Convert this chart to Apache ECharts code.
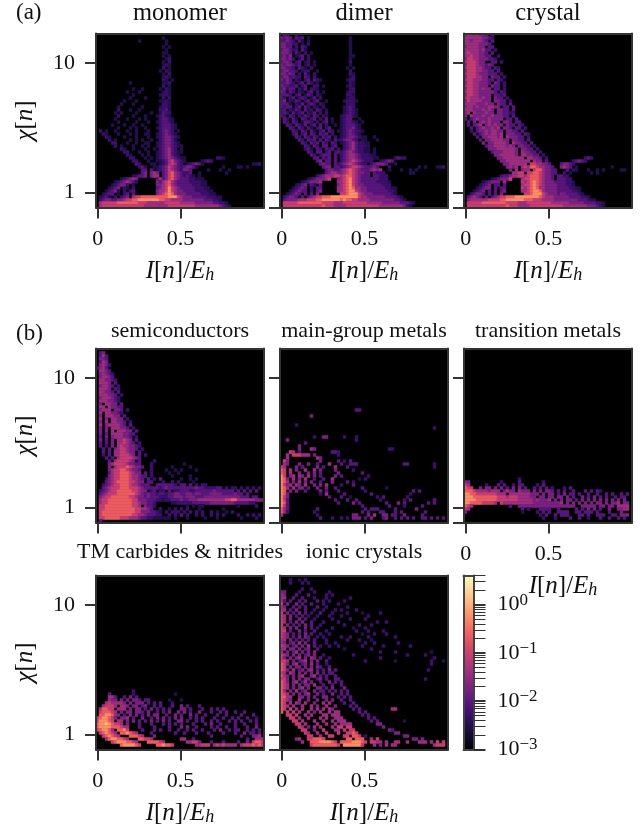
<!DOCTYPE html>
<html><head><meta charset="utf-8">
<style>html,body{margin:0;padding:0;background:#fff}#c{width:644px;height:831px}</style>
<script src="https://cdn.jsdelivr.net/npm/echarts@6/dist/echarts.min.js"></script>
</head><body><div id="c"></div>
<script>
// Each row list: index = row from the top, "startColumn:levels" with '.' for an empty bin.
const monomerRows=["","22:1","14:1 23:1","23:1","22:1.1","23:1","22:11","22:1.1","23:12","22:1.2","22:121","22:2.1","21:1.21","22:1.2","22:121","22:21.1","11:1 22:112","22:2.1","12:1 15:1 21:1.21","10:1 14:1 22:121","12:1 21:1221","11:1 16:1 22:2.2","9:1 13:1 21:1121","8:1 12:1 22:221","7:1 15:1 21:1221","7:2 11:1 14:1 21:2231","6:1.1 13:1 18:1 21:1322","7:2 12:1 16:1 20:12321","6:1 10:1 14:1.1 21:23321","7:1 13:1 17:1 20:123321","5:1 9:1 12:1 15:1 21:233321","7:1 11:1.1 16:1 20:1233321","1:2.1 6:1 10:1 13:1 17:1 21:23432.1","2:21 7:1 11:1.1 16:11 20:1234321","3:21 9:1 13:1 17:1 20:12344321","4:2.1 11:1.1 15:1 18:1 21:234431","5:22 10:1 13:1 16:11 20:12344321","6:2.1 12:1 15:1.1 20:123443211","8:21 12:1 16:1 19:1.234532.1","9:22 14:1 17:1 20:123453211","10:2 11:1 15:1.1 20:12345321","11:22 16:1.1 20:1234543211 40:221","12:22 17:1 20:1123564321 35:1232","13:32 18:11 21:12356532 30:123431 52:112","14:231 19:1 20:123465432 29:34431 42:1 47:11.1","15:33 18:3 20:123465432 29:443 37:1 41:1 44:1","15:34 18:454 22:3467543223 34:1 43:1","12:12334 18:455 22:34675432321 34:1","8:123454 20:35 22:34675433322 33:111","6:12345431 20:4 21:356754333322 33:2211","5:123442.1 20:445675433333 32:22211","4:1234.21.2 20:345686543333 32:322211","3:12341.2.23 20:455686544333 32:3222211","2:1233.1.23 12:3 20:4 21:56787544433 32:33322211","1:123 4:1.2.234 12:56 14:67777777 22:778886544433 34:33322211","1:2344334456 11:67788888887 22:7665555444 32:4444333221","1:56666 6:6777777766655 17:5 18:55555666665555544 35:444433221","1:5666666666666665555555566666666655555555 41:4321"];
const dimerRows=["1:32 5:2","0:4343 5:323 9:1 23:1","0:334 3:32 6:31.1 23:1","0:443 3:322 7:1 9:2 23:1","0:4433 5:2 7:32 23:1","0:3443 4:22.3 8:1 23:1","0:44 2:43 5:31 8:2 10:1 23:1","0:3434 5:1 6:23 9:2 23:11","0:4434 4:2.1 7:3 9:2 23:1","0:3443 5:23 8:12 11:1 23:2","0:4344 4:323 8:12 11:1 23:1","0:443 3:32 6:3 7:21 10:2 22:1.1","0:3443 4:32 7:12 9:2 12:1 23:2","0:44343 6:2 8:31 11:2 23:21","0:3442 4:3 5:22 8:3 9:2 11:2 23:12","0:4343 5:21 8:23 11:32 13:1 22:122","0:334 3:3 4:2 6:23 9:32 12:1 23:21","0:433 3:2 4:23 7:2 8:3 11:22 14:1 22:121","0:34 2:233 6:2 7:13 10:2 11:21 23:22","0:43 3:32 6:21 9:23 12:2 14:1 22:122","0:33 2:32 5:23 8:1 9:32 12:21 22:221","0:32 3:23 6:2 7:32 10:13 13:2 22:122","0:34 3:21 5:32 8:23 11:2 12:3 15:1 21:12221","0:33 2:31 5:2 6:13 9:2 10:32 13:21 22:222","0:32 2:33 5:23 8:32 11:21 14:2 21:1232","0:23 3:21 5:32 8:3 9:12 12:32 15:1 21:12321","0:2 1:32 4:31 6:23 9:2 10:13 13:2 15:2 21:12321","0:32 3:32 6:21 8:32 11:3 12:2 14:21 20:123321","1:32 4:31 7:32 10:23 13:2 15:3 17:1 20:1233 26:1","1:3 2:2 4:32 7:13 9:32 12:2 14:23 17:1 20:123321 27:1","2:32 5:3 6:21 8:3 10:23 13:3 15:2 18:1 20:1233321","3:3 4:2 6:32 9:31 12:23 15:2 16:3 20:1233421","4:32 7:3 8:2 10:31 13:2 14:3 16:32 19:1 20:12343221","4:2 5:3 7:23 10:32 13:3 14:23 17:2 20:1234321","5:32 8:32 11:3 12:2 14:3 15:23 18:2 20:123443211 31:1","6:32 9:3 10:23 13:3 15:32 18:3 19:1 20:234432 27:11 32:1","7:32 10:3 11:23 14:32 17:3 18:2 20:1234532211","8:32 11:3 12:2 14:33 17:2 18:3 21:234532221","8:2 9:3 10:1 12:32 15:3 16:23 19:2 21:234532211.1","9:32 12:33 15:2 16:3 18:23 20:2345432211.1","10:32 13:23 15:33 18:3 20:234554322211","11:33 14:3 15:23 18:3 20:2345543222211 38:2322","12:34 15:33 18:3 20:23456543222 33:12343","13:3433 18:3 19:2345654322 30:234443 38:1","14:344 18:33 20:23456654333 30:343 36:2 46:1.1 52:112","15:3443 19:34567654333 30:4545 36:1 40:1 43:1.1","15:34554 20:4567654433 31:3222 43:11","12:23455566 20:5677654333 31:33222","9:12344456 19:45 21:678654333 30:333222","7:123444 13:5 19:5 20:5678654 27:33333 32:22221","5:1234.32.3 19:45 21:6786544 28:3333 32:33222","4:12343.2.33 19:5 20:567875544 29:3333 33:332211","3:123433.2.34 19:5 20:5678865 27:4433333 34:33221","2:12343.3.3 12:4 20:667888654443 32:333 35:3321","1:234 4:43.3.345 12:667 15:7788888 22:8888655444 32:444333321","1:3444455566 11:6778888887 21:8776655554 31:44444443321","1:66666 6:7777777766665 18:55566666666555554 35:4444433321","1:66666666666667666555566666666666555555554 42:21"];
const crystalRows=["0:45555443.3","0:5555554432","0:55455543 9:3","0:555554443","0:4555544.33","0:555554533.2","0:56555443.3","0:556554433 11:2","0:46655444332","0:5666544 9:33.2","0:4666544343","0:566655433 10:32","0:4666554433 11:3","0:566654443 9:33.2","0:46665544 9:433.2","0:5665554433 11:32","0:466554443 10:43.2","0:56655444 9:433 13:2","0:466554544 10:33 13:2","0:56655444443 12:32","0:466554444 10:3323","0:565554544 10:433 14:2","0:465555444 10:4433 15:2","0:5555444544 11:433 15:3","0:455454445544 13:33 16:3","0:5554445454 11:4433 16:3","0:45.5444544 11:44332 16:2","0:4.544454454 11:4433 16:3","0:3.34544 7:454444 14:33 17:3","1:3.4.454 8:5444 13:443 17:33","1:3.345.4 8:54544 14:433 18:32","2:3.345 7:44545 13:443 17:33 20:2","2:2.34 6:45 8:45544 14:4433 19:3","3:3.345 8:45545 14:44433 20:32","4:3.445 9:5545 14:544433 21:2","5:3.445 10:55544 16:4433 21:3","6:4.44 10:55554 16:54433 22:3","7:3445 11:555454 18:4433 23:2","8:44 10:45 12:555554 19:4433 24:2","9:344 12:455554 19:54433 25:2","10:445 13:55554 19:554433 26:2","11:445 14:555555 21:55443 27:2 40:232","12:4455 16:55 18:5555 23:544 27:3 36:23432","13:4455 17:55 19:55 22:6655443 32:34432","14:4545 19:565 22:77655443 32:4543 37:1 49:1","15:4 17:5 19:455 23:67754433 34:3 36:21 41:1 44:1.1 52:11","16:5566 21:6677654433 33:2.1 42:1.1","12:23345566 20:5677765443 31:3322","9:1234445 15:6 19:56 21:677765443 31:33322","6:123444 13:5 19:6 20:5678765 27:4443 31:333221","5:1234.33.3 19:56 21:6787654 28:4443 32:33221","4:12344.3.33 19:6 20:567875544 29:4433 33:332211","3:1234.3.3.34 19:5 20:5678875 27:4444333 34:33221","2:23443.3.3 12:4 20:667888654443 32:4433 36:3321","1:345 4:43.3.345 12:667 15:7788888 22:8887655544 32:4443333221","1:4555555666 11:6778888887 21:7766655554 31:4444444333211","1:66666 6:7777777766665 18:55566666666555555 35:444443333221","1:666666666666676665555666666666665555555544 43:4321"];
const semiconductorRows=["","1:34","1:353","1:443","1:354","1:4542","0:2453","1:5543","1:45432","1:45543","1:554432","1:5554 6:3","1:45543 7:2","1:5554 6:32","1:55443 7:3","1:555443 8:2","1:4555432","1:55544 6:32","1:4 3:5544 8:3","1:55 4:54433","1:4555 6:443 10:2","1:5 3:554432","1:4 3:55544 9:3","1:5 3:4 5:5544 10:2","1:4 3:5 5:55443 11:2","1:5 3:4555543 11:3","1:4 3:4 5:555443 12:2","1:4 3:4 5:5 7:55544 13:3","1:4 3:3 5:555544 11:33","1:3 3:4 5:4555443 13:2","1:4 3:3 5:4 7:55654 13:3","1:3 3:3 5:4 7:556543 14:2","1:3 3:2 5:4 7:565544 13:32","2:3 4:3 6:45665443 15:2","2:3 4:3 6:5566544 14:3","2:2 4:3 6:5566654 14:3 16:2","3:3 5:3 7:56666543","4:3 6:5666654 14:3 19:2","4:45666654433 18:2 29:1","4:4 6:5666765443 18:2 25:1 31:1","4:45667765443 18:2 23:1 26:1.1 33:1","4:35667776544 16:3 18:2 24:1 27:1","4:4566777655433 18:2 25:1 31:1","3:2456677765543 17:3 19:2.3 28:1 31:1.1","3:3456777766544 17:33 22:2 25:2.2 32:1","2:2345667776554333 20:3 21:333332 28:33.3 33:2.2 36:2","2:34566677766654 16:33333234333 27:33333343322 38:2233.2.22.2.2.2.2","1:2345667777766544 18:23.22.3.2 27:233322333 36:3 37:334333333.3.3.3.3","1:34566677777765 15:4343323 22:3233443 29:3443 33:443 36:3344443333433.3","1:4566777777665 14:4434333 21:2223344 28:4344433 35:3444444444 45:444333.33","1:5667777777766 14:4443332 21:2 22:1223334 29:3344455 36:55555 41:556677555 50:555444","1:56677777777665 15:4433 19:2 25:1122 29:22233 34:333344 40:444444 46:3333322","1:667777777776 13:65 16:4332 30:1 32:1.1 35:1 47:1 53:2","1:6677777777776655 17:43 21:2 24:1.2 28:2.2 34:1 42:1","1:6777777777 11:7766 15:4443 19:321 23:2 25:22 27:2.2 31:2.2 35:2 38:2.1 43:1.2","1:677777777776655 16:4333 20:22 24:2 26:2.3.2 33:2.2 38:2 40:2.2 47:2 50:2.2 54:2","1:6677777666555 14:43322111 22:111 26:1 30:1 36:1 40:1 48:1 53:2","1:3"];
const mainGroupRows=["","","","","","","","","","","","","","","","","","","","","25:33","","10:4","","","5:2","51:2","","","11:2 14:44 21:2 25:2","2:4 25:2","8:3","6:4","6:4 10:54 36:22","3:65 6:3 17:33 19:2","2:5 4:666555 11:4 19:2","2:5 12:54","1:6 2:4 13:4 19:3 21:2 23:3","1:54 6:4 9:4 12:3 16:5 20:3 23:33 25:3 41:33 51:2","0:6 1:5 5:4.4 7:3 12:4.3 18:5 22:3 51:2","0:7 1:6 3:5 5:4 8:5 11:5 13:4 18:4 24:2","0:76 3:5 6:4 9:4 11:4 13:3 19:4 27:3","0:86 3:45 6:54 9:5 11:4.3 18:4 20:3 29:2","0:87 2:4 4:5 6:4 8:5 11:3 14:3 17:5 26:1.2","0:87 2:5 4:4.5 8:4.4 13:3 17:4 22:3 24:2","0:86 2:45 5:54 8:5 11:4 13:4 15:5 20:2 24:3","0:87 2:5 4:5.4 7:4 9:3 12:4 15:4 18:3 27:3 35:1","0:87 3:4 5:4 8:3 13:4 15:3 19:3 28:2 44:3.3","0:87 2:4 13:2 15:5 21:3 30:3 43:2","0:86 2:4 16:3 20:3 23:1 32:2.3 42:2","0:86 2:3 18:3 22:3 25:3 33:2 41:2.3 51:3","0:87 2:3 19:3 24:4 26:3 35:3 39:4.3 49:3.3","0:86 2:3 27:3 36:3 41:2 47:3","0:75 2:3 12:3 28:3.3 31:33 38:3 45:4","0:75 2:2 11:2 27:3 29:3 33:33 38:3.3 48:3","0:5 12:2 24:44 29:4 31:5 34:44 37:33 41:4 47:3","13:3 17:2 20:2 22:2 24:444 28:3 30:4 34:34 38:3.3.3 44:3 47:33 50:3 52:3 54:3",""];
const transitionRows=["","","","","","","","","","","","","","","","","","","","","","","","","","","","","","","","","","","","","","","","","","","","18:2","0:44 12:2 18:3 26:2","0:65 7:2 11:3.3 16:2.33 24:2.2 26:3","0:766 5:4.4 8:4 10:4.4 14:3 16:4 18:4 20:3 23:3.3 27:3 29:2 33:2.3","0:777655554555 13:4544 18:5 19:444 23:4.4.44 29:3.3 33:3 36:3 40:3.3.3 45:2","0:88776666666555 15:5555 19:55 21:5444 26:4.44 31:3.4.3 36:3.3 41:3 44:3 47:3 49:3 52:3 54:3","0:888777777776665 15:6665555 22:44.4 26:4.44.4 32:4 34:4.3 39:4.3.4 45:3.3 50:3.3 53:3","0:8888777777766 13:6666 17:65555 22:54544 27:45.4 32:4.44 37:3.4.4 43:4 45:4.4 49:4 51:4.4","0:88777766665 12:655 15:55555 20:555444 26:444 29:44 31:45 34:4 36:4.4.4 42:4.44.4.4 50:45 53:44","0:765 15:3 18:4444 22:44444 27:44444 32:444 35:44 39:444 42:44 45:44 48:44 51:5555","0:65 19:3 21:2 25:33 27:33 31:3 37:3.3 41:4 43:4 45:3 48:4 51:445 54:5","0:4 19:1 24:2 26:3.3 31:3333 37:33.33 42:3.3 48:3 52:4","25:2 27:3 30:3.3 33:33 38:33 41:3 44:33 46:3 49:33 52:44 54:4","26:2 30:2 35:3 38:3 41:2 45:3 48:3 51:3 53:3",""];
const carbideRows=["","","","","","","","","","","","","","","","","","","","","","","","","","","","","","","","","","","","","","","12:2","4:3 12:2 26:1","4:55 6:3 9:3 11:4 13:3","4:54 6:4 8:4 10:4.44 14:3.3 17:3 24:1 28:1","3:5655 7:5 8:54 11:4.4 14:44 17:3.3 21:3 25:2","2:5666 6:5.5 9:54 12:44.3 16:4 19:3 21:3 25:3 28:4.3 34:3","1:57766 7:555 11:4 13:44 16:3 18:4.3 22:3 24:3 28:44 31:3 35:3 38:3.3 42:3","1:6777 5:65 8:4.4 11:4.44 15:3 17:4 20:3.3 24:4 27:4.4 31:3 34:4 38:3 41:3.3 46:3 49:3","1:77887 6:5 7:4 9:3 11:4 13:4.3 17:4 19:44 23:3 26:4 28:3 31:4.3 36:3 40:3 43:3 48:3 52:3","0:6788 4:7 5:6 6:4 8:44 10:5 12:3 15:4 18:3.4 22:4.3 26:4 28:4 31:3.3 35:3 39:3 42:3 45:3 47:3 50:3 53:2","0:6888 4:76 7:55 10:4.4 14:3 16:3.4 20:3.4 24:3 27:44 30:3 33:3.3 38:3 40:3 44:3.3 48:3 51:3.3","0:7889 4:87 6:66 8:5 10:4 14:3 18:3 22:3.3 26:3 28:3 32:3 36:3 38:4 41:3 46:3 49:3 53:3","0:7888 4:8 5:7 6:7 7:76 9:55 14:3 19:3 24:3 28:4.4 33:3 38:3.3 43:3 46:3 50:3 53:4","0:6 1:7887 5:5 7:778 10:6 15:3 19:3.3 24:3 27:3 30:3.3 35:3 39:3.4 44:3.3 47:3 50:3.3 54:3","1:6787 5:65 8:7787 12:65 18:3 26:3 29:3 33:3 37:3 42:3 46:3 49:4.3 52:3.3","2:67876 7:5 11:77765 19:4 38:3 48:3 52:445","3:5788776 10:5 14:7766 18:5 28:55 32:3 50:3 53:555","5:67888776 13:5 17:777765 30:5566 34:4 38:3 42:3 47:3 50:4 52:6776","8:7888876 20:778776 33:55666 39:56565 44:555 48:5666 52:7676",""];
const ionicRows=["","3:2 6:1.1 8:2","3:2 7:2 9:2","","7:2 10:2","0:44 6:2 11:2 16:2","0:54 5:3 9:3 15:2 17:2","0:55 4:3 7:3 11:2 15:2 23:2","0:53 3:3 6:3 8:3 12:3.2 16:2 21:2","0:6 2:4 5:4 7:3 10:3 14:2 19:2","0:54 4:3 6:3.3 12:3 15:2 22:2","0:55 3:3 5:4 8:3 11:2 14:2 18:2 20:2 25:2","0:6 2:4 4:3.4 8:3 10:2 13:3 17:2 22:2 27:1 33:2","0:65 3:4 5:3 7:3.2 12:2 16:2 20:2 29:2","0:65 3:4 6:4 8:3 11:2 17:2 23:2 28:2","0:65 3:3.4 7:4 10:3 14:2 19:2 32:2 35:2","0:6 2:4 4:3 6:3.4 10:3 13:2 21:2 26:2 30:2","0:65 3:4 5:4 8:4.3 12:2 17:2 24:1 28:2","0:66 3:3 6:4 8:3 11:3 15:2 25:2 29:2 34:2","0:65 2:4 4:3.3 8:4 10:3 13:2 16:2 27:1 31:2 35:2","0:654 4:3.4 8:43 12:2 14:2 20:2 23:2 29:2 38:2","0:55.4 5:3 7:3.3 11:3 15:2 22:2 26:2 30:1","0:54.34 6:5 8:4 11:3 15:2 18:2 28:2 31:2 39:2","0:654 4:34 7:4.5 11:3 13:2 16:2 19:2 27:2 34:2 43:2","0:55.44 6:4 8:34 12:3 21:1 30:2","0:5.4 4:35 7:4.4 11:4 33:2 38:2 50:1","0:654 4:4 6:4.34 11:4 14:2 24:2 42:2 48:2","0:64.4 5:45 8:4 10:54 13:3 16:2 33:2 51:2","0:665 4:4 6:3 7:45 10:4 12:4 15:3 28:2 38:1 50:2 54:1","0:764 4:45 7:34 10:5 12:3 15:2 50:2","0:76.4 5:44 8:4.4 12:43 16:3","0:764 4:5 6:34 9:45 12:3 14:3 16:4 18:3 49:2","0:65 3:54 6:4.4 10:4 12:4 14:3 16:33","0:754 4:4 6:45 10:45 13:3 15:3 18:3","0:664 4:4.4 8:44 12:34 15:3 18:33 48:2","0:764 4:45 7:3 8:5 10:4 13:3 16:4 18:3 20:3","0:765 4:4 6:4 8:44 11:5 14:3 17:3 20:3","0:765 4:4 6:45 9:4 12:44 15:3 17:4 21:4","0:75 3:4 5:5 7:34 11:4 13:33 16:3 18:3 20:3 22:3","0:765 4:4 6:4 8:45 12:4 14:3 17:4 20:3 22:3","0:775 3:5 6:44 9:4 11:4 14:44 19:3 21:3 23:3","0:76 2:54 6:5 9:4 12:4 15:4 17:4 20:3 23:3","0:76 3:5 5:54 8:5 11:4 14:5 16:5 21:3 24:3","0:76 2:5 4:5 7:5 10:5 12:4 15:5 18:4 23:3 25:3","0:7 1:6 3:6 5:5 7:5 10:5 12:5 14:5 16:54 24:3 26:3 37:55","0:7 2:6 4:6 6:5 9:5 11:4 13:5 16:5 18:55 26:3 28:3","2:66 5:6 8:5 10:5 14:55 17:55 19:5 27:3 29:3","3:66 6:5 9:5 13:5 15:5 18:55 20:5 29:3 31:3","4:66 7:5 11:5 14:5 17:5 19:55 21:5 30:3 32:3 41:1","5:66 8:5 12:5 15:5 18:5 20:55 22:55 32:44","6:65 9:4 11:5 13:5 17:5 19:66 22:66 34:4","7:66 11:4 14:6 18:55 21:6 23:66 36:43","8:65 12:5 15:6 19:6 22:66 24:76 38:44","9:66 13:5 16:66 21:66 24:7 25:76 28:2 41:44","5:4 6:5 9:66 11:7 12:777 14:6 22:77 25:777 30:5 32:6 44:44 47:4","7:5 10:777 13:8888 17:76 20:7777 24:888 27:7 28:6 30:6655 35:5 38:55 42:5 46:555 50:5 52:6 54:6","10:6 11:7777 15:7777 19:6 21:8888 25:88 27:6 31:5 33:4 35:5 37:55 51:5 52:666",""];

const levelValues=[-2.5,-2.28,-2.03,-1.74,-1.42,-1.06,-0.66,-0.26,0.17]; // log10 density per level digit 1-9
const xTicks=[0,0.5];
const yTicks=[0,1,10];
const colorbarMajor=[-3,-2,-1,0];
const colorbarMinorFactors=[2,3,4,5,6,7,8,9];
const magma=['#000004','#180f3d','#440f76','#721f81','#9e2f7f','#cd4071','#f1605d','#fd9668','#feca8d','#fcfdbf'];

const FONT='"Liberation Serif","Times New Roman",serif', INK='#111', FRAME='#333';
const COLS=56, ROWS=58, W=168, H=174;
const colNames=Array.from({length:COLS},(_,i)=>i), rowNames=Array.from({length:ROWS},(_,i)=>i);
const symlog=v=>v<=1?v:1+8.63*Math.log10(v);
const symMax=11.6;

function parse(rows){const out=[];rows.forEach((row,r)=>{row.split(' ').filter(Boolean).forEach(seg=>{
  const [s,l]=seg.split(':');[...l].forEach((ch,k)=>{if(ch!=='.')out.push([+s+k,r,levelValues[+ch-1]]);});});});return out;}

const xName='{i|I}{r|[}{i|n}{r|]/}{i|E}{s|h}';
const chiName='{i|\u03c7}{r|[}{i|n}{r|]}';
const nameRich={i:{fontFamily:FONT,fontStyle:'italic',fontSize:25,color:INK},r:{fontFamily:FONT,fontSize:25,color:INK},
  s:{fontFamily:FONT,fontStyle:'italic',fontSize:18,color:INK,verticalAlign:'bottom',padding:[9,0,0,0]}};

const panels=[
 {title:'monomer',rows:monomerRows,x:96,y:33.5,t:1,tf:24.5,xl:1,yl:1},
 {title:'dimer',rows:dimerRows,x:280,y:33.5,t:1,tf:24.5,xl:1,yl:0},
 {title:'crystal',rows:crystalRows,x:464,y:33.5,t:1,tf:24.5,xl:1,yl:0},
 {title:'semiconductors',rows:semiconductorRows,x:96,y:348.5,t:320,tf:22,xl:0,yl:1},
 {title:'main-group metals',rows:mainGroupRows,x:280,y:348.5,t:320,tf:22,xl:0,yl:0},
 {title:'transition metals',rows:transitionRows,x:464,y:348.5,t:320,tf:22,xl:1,yl:0,nameShift:30},
 {title:'TM carbides & nitrides',rows:carbideRows,x:96,y:575.5,t:541,tf:22,xl:1,yl:1},
 {title:'ionic crystals',rows:ionicRows,x:280,y:575.5,t:541,tf:22,xl:1,yl:0}
];
const grid=[],xAxis=[],yAxis=[],series=[],title=[];
const lineStyle={color:FRAME,width:2};
panels.forEach((p,i)=>{
  grid.push({left:p.x,top:p.y,width:W,height:H,show:true,backgroundColor:'#000',borderWidth:0,containLabel:false});
  title.push({text:p.title,left:p.x+W/2,top:p.t,textAlign:'center',padding:0,textStyle:{fontFamily:FONT,fontWeight:'normal',fontSize:p.tf,color:INK}});
  const cx=xAxis.length, cy=yAxis.length;
  xAxis.push({type:'category',gridIndex:i,data:colNames,position:'top',z:5,axisLine:{onZero:false,lineStyle},axisTick:{show:false},axisLabel:{show:false},splitLine:{show:false}});
  yAxis.push({type:'category',gridIndex:i,data:rowNames,inverse:true,position:'right',z:5,axisLine:{onZero:false,lineStyle},axisTick:{show:false},axisLabel:{show:false},splitLine:{show:false}});
  xAxis.push({type:'value',gridIndex:i,position:'bottom',min:-0.0103,max:1.0054,z:5,silent:true,
    axisLine:{onZero:false,lineStyle},splitLine:{show:false},
    axisTick:{show:true,length:11,lineStyle,customValues:xTicks},
    axisLabel:{show:!!p.xl,customValues:xTicks,margin:21,fontFamily:FONT,fontSize:22,color:INK,showMinLabel:true,showMaxLabel:true,formatter:v=>String(v)},
    name:p.xl?xName:'',nameLocation:'middle',nameGap:50,nameTextStyle:{rich:nameRich,padding:p.nameShift?[0,0,0,p.nameShift]:0}});
  yAxis.push({type:'value',gridIndex:i,position:'left',min:0,max:symMax,z:5,silent:true,
    axisLine:{onZero:false,lineStyle},splitLine:{show:false},
    axisTick:{show:true,length:11,lineStyle,customValues:yTicks.map(symlog)},
    axisLabel:{show:!!p.yl,customValues:yTicks.map(symlog),margin:21,fontFamily:FONT,fontSize:22,lineHeight:12,color:INK,hideOverlap:false,
      formatter:v=>String(yTicks[yTicks.map(symlog).findIndex(s=>Math.abs(s-v)<1e-6)])},
    name:p.yl?chiName:'',nameLocation:'middle',nameRotate:90,nameGap:58,nameTextStyle:{rich:nameRich}});
  series.push({type:'heatmap',name:p.title,xAxisIndex:cx,yAxisIndex:cy,data:parse(p.rows),progressive:0,silent:true,emphasis:{disabled:true},itemStyle:{borderWidth:0}});
});
title.push({text:'(a)',left:16,top:1,padding:0,textStyle:{fontFamily:FONT,fontWeight:'normal',fontSize:23,color:INK}});
title.push({text:'(b)',left:16,top:322,padding:0,textStyle:{fontFamily:FONT,fontWeight:'normal',fontSize:23,color:INK}});

// colour bar axes
const cbi=panels.length, cbMax=Math.log10(4);
const minors=[];colorbarMajor.forEach(k=>colorbarMinorFactors.forEach(m=>{const v=k+Math.log10(m);if(v<=cbMax+1e-9)minors.push(v);}));
grid.push({left:463.5,top:575.5,width:10,height:174,show:false});
const cbLine={color:'#444',width:2};
xAxis.push({type:'value',gridIndex:cbi,position:'bottom',min:0,max:1,z:6,axisLine:{onZero:false,lineStyle:cbLine},axisTick:{show:false},axisLabel:{show:false},splitLine:{show:false}});
xAxis.push({type:'value',gridIndex:cbi,position:'top',min:0,max:1,z:6,axisLine:{onZero:false,lineStyle:cbLine},axisTick:{show:false},axisLabel:{show:false},splitLine:{show:false}});
yAxis.push({type:'value',gridIndex:cbi,position:'left',min:-3,max:cbMax,z:6,axisLine:{onZero:false,lineStyle:cbLine},axisTick:{show:false},axisLabel:{show:false},splitLine:{show:false}});
yAxis.push({type:'value',gridIndex:cbi,position:'right',min:-3,max:cbMax,z:6,axisLine:{onZero:false,lineStyle:cbLine},splitLine:{show:false},
  axisTick:{show:true,length:12,lineStyle:{color:FRAME,width:2},customValues:colorbarMajor},
  axisLabel:{show:true,customValues:colorbarMajor,margin:24,showMinLabel:true,showMaxLabel:true,formatter:v=>`{b|10}{e|${v===0?'0':'\u2212'+Math.abs(v)}}`,
    rich:{b:{fontFamily:FONT,fontSize:22,color:INK},e:{fontFamily:FONT,fontSize:17,color:INK,verticalAlign:'top',padding:[0,0,9,0]}}}});
yAxis.push({type:'value',gridIndex:cbi,position:'right',min:-3,max:cbMax,z:6,axisLine:{show:false,onZero:false},splitLine:{show:false},
  axisTick:{show:true,length:12,lineStyle:{color:FRAME,width:1},customValues:minors},axisLabel:{show:false}});

const chart=echarts.init(document.getElementById('c'),null,{renderer:'canvas'});
chart.setOption({animation:false,backgroundColor:'#fff',title,grid,xAxis,yAxis,series,
  visualMap:{type:'continuous',show:true,min:-3,max:cbMax,dimension:2,seriesIndex:series.map((_,i)=>i),left:463.5,top:575.5,
    itemWidth:10,itemHeight:174,padding:0,text:null,showLabel:false,calculable:false,realtime:false,hoverLink:false,inRange:{color:magma},outOfRange:{color:'#000'},z:4}});
</script></body></html>
